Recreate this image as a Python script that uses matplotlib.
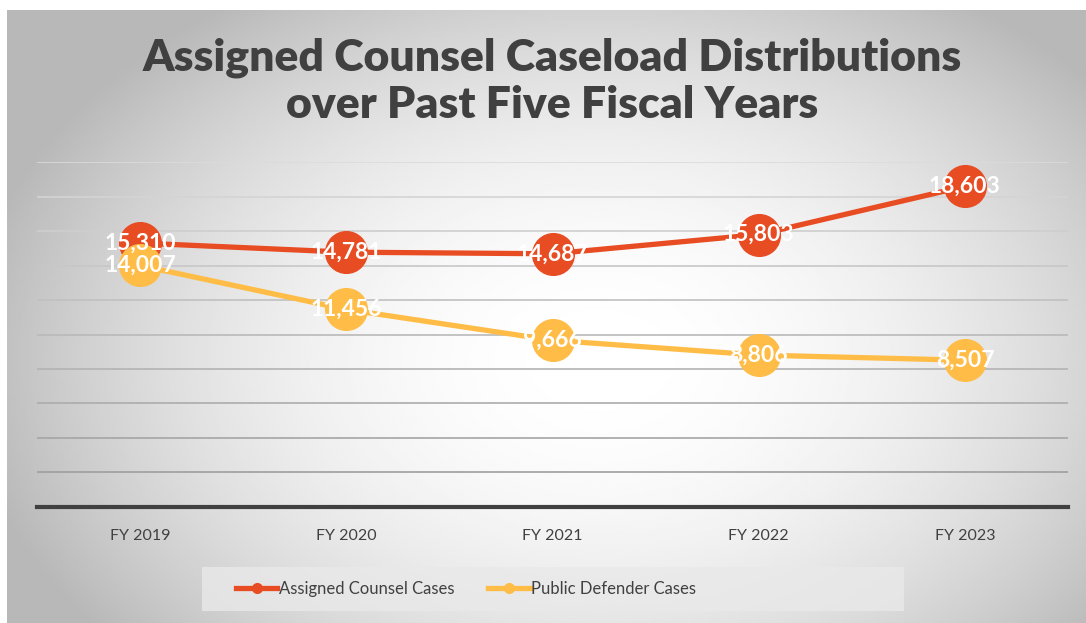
import numpy as np
import matplotlib.pyplot as plt
from matplotlib.lines import Line2D
from matplotlib.patches import Rectangle

years = ['FY 2019', 'FY 2020', 'FY 2021', 'FY 2022', 'FY 2023']
assigned = [15310, 14781, 14687, 15803, 18603]
defender = [14007, 11456, 9666, 8806, 8507]
labels = ['Assigned Counsel Cases', 'Public Defender Cases']

red = '#E84C22'
gold = '#FFBD47'
dark = '#404040'

plt.rcParams['font.family'] = ['Lato', 'DejaVu Sans']

W, H = 1086, 623
fig = plt.figure(figsize=(W / 100, H / 100), dpi=100)

# fondo con degradado radial
bg = fig.add_axes([7 / W, 0, 1 - 7 / W, 1 - 10 / H])
xx, yy = np.meshgrid(np.linspace(7, W, 400), np.linspace(10, H, 240))
r = np.sqrt(((xx - 600) / 580) ** 2 + ((yy - 360) / 400) ** 2)
val = 1 - 0.23 * np.clip(r, 0, 1.1) ** 2
bg.imshow(val, cmap='gray', vmin=0, vmax=1, aspect='auto', extent=(0, 1, 0, 1), origin='upper')
bg.axis('off')

ax = fig.add_axes([37 / W, 1 - 506.7 / H, (1068 - 37) / W, (506.7 - 162.3) / H])
ax.patch.set_alpha(0)
x = np.arange(len(years))

ticks = np.arange(2000, 20001, 2000)
for i, t in enumerate(ticks):
    c = 0.62 + 0.24 * i / (len(ticks) - 1)
    ax.axhline(t, color=(c, c, c), lw=1.2, zorder=1)

ax.plot(x, assigned, color=red, lw=3.8, marker='o', ms=30, clip_on=False, zorder=3)
ax.plot(x, defender, color=gold, lw=3.8, marker='o', ms=30, clip_on=False, zorder=3)

for xi, v in zip(x, assigned):
    ax.text(xi, v, f'{v:,}', ha='center', va='center', color='white',
            fontsize=16.5, fontweight='bold', zorder=5)
for xi, v in zip(x, defender):
    ax.text(xi, v, f'{v:,}', ha='center', va='center', color='white',
            fontsize=16.5, fontweight='bold', zorder=5)

ax.set_xlim(-0.5, 4.5)
ax.set_ylim(0, 20000)
ax.set_yticks([])
ax.set_xticks(x)
ax.set_xticklabels(years, fontsize=11.5, color=dark)
ax.tick_params(axis='x', length=0, pad=16)
for s in ['top', 'right', 'left']:
    ax.spines[s].set_visible(False)
ax.spines['bottom'].set_color(dark)
ax.spines['bottom'].set_linewidth(3)

fig.text(552 / W, 1 - 58 / H, 'Assigned Counsel Caseload Distributions',
         ha='center', va='center', fontsize=32, fontweight='heavy', color=dark)
fig.text(552 / W, 1 - 105 / H, 'over Past Five Fiscal Years',
         ha='center', va='center', fontsize=32, fontweight='heavy', color=dark)

# leyenda
fig.patches.append(Rectangle((202 / W, 1 - 611 / H), (904 - 202) / W, 44 / H,
                             transform=fig.transFigure, facecolor='#e9e9e9',
                             edgecolor='none', alpha=0.8, zorder=0))
handles = [Line2D([], [], color=red, lw=3.8, marker='o', ms=7),
           Line2D([], [], color=gold, lw=3.8, marker='o', ms=7)]
fig.legend(handles, labels, loc='center', bbox_to_anchor=(466 / W, 1 - 589 / H),
           ncol=2, frameon=False, fontsize=12, labelcolor=dark,
           handlelength=2.5, handletextpad=0.1, columnspacing=2.0)

plt.savefig('out.png', dpi=100)
